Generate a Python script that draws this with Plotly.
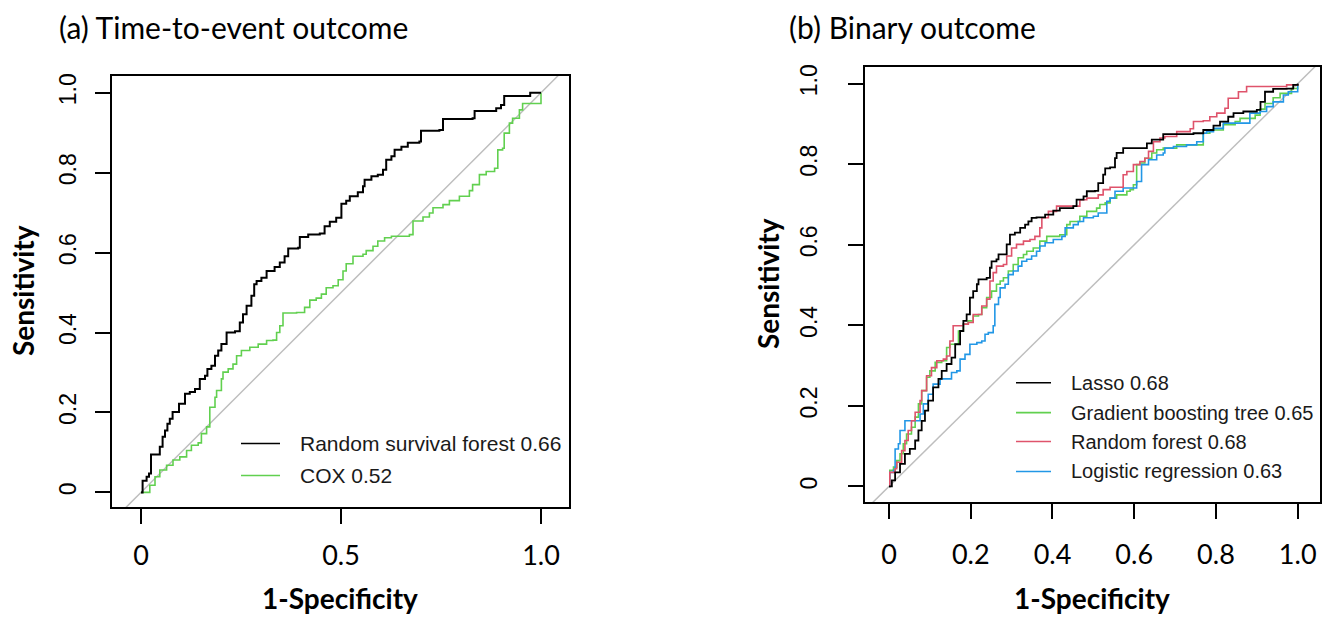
import plotly.graph_objects as go

# ---------------- data: panel (a) time-to-event ----------------
rsf_fpr = [0, 0.004, 0.014, 0.020, 0.025, 0.041, 0.047, 0.054, 0.060, 0.066, 0.072, 0.079, 0.089, 0.095, 0.101, 0.110, 0.122, 0.135, 0.147, 0.160, 0.166, 0.176, 0.185, 0.193, 0.201, 0.214, 0.235, 0.247, 0.255, 0.264, 0.276, 0.283, 0.289, 0.301, 0.314, 0.334, 0.347, 0.359, 0.368, 0.393, 0.397, 0.418, 0.447, 0.459, 0.472, 0.488, 0.501, 0.513, 0.522, 0.542, 0.555, 0.559, 0.576, 0.592, 0.605, 0.613, 0.626, 0.634, 0.651, 0.667, 0.696, 0.700, 0.746, 0.755, 0.829, 0.834, 0.884, 0.888, 0.900, 0.908, 0.971, 0.973, 1.0]
rsf_tpr = [0, 0.029, 0.039, 0.047, 0.095, 0.095, 0.114, 0.139, 0.155, 0.172, 0.184, 0.201, 0.201, 0.222, 0.222, 0.247, 0.251, 0.259, 0.284, 0.292, 0.309, 0.317, 0.342, 0.355, 0.371, 0.400, 0.403, 0.425, 0.446, 0.467, 0.492, 0.521, 0.529, 0.537, 0.554, 0.564, 0.575, 0.591, 0.610, 0.612, 0.639, 0.645, 0.648, 0.666, 0.677, 0.687, 0.722, 0.730, 0.741, 0.751, 0.766, 0.782, 0.791, 0.795, 0.807, 0.832, 0.841, 0.857, 0.865, 0.875, 0.878, 0.905, 0.907, 0.934, 0.936, 0.954, 0.954, 0.961, 0.969, 0.992, 0.992, 1.0, 1.0]

cox_fpr = [0, 0.018, 0.022, 0.035, 0.047, 0.064, 0.080, 0.097, 0.114, 0.126, 0.143, 0.151, 0.164, 0.172, 0.185, 0.189, 0.201, 0.205, 0.218, 0.230, 0.239, 0.251, 0.272, 0.293, 0.314, 0.330, 0.339, 0.347, 0.355, 0.389, 0.409, 0.422, 0.438, 0.451, 0.463, 0.480, 0.493, 0.505, 0.513, 0.530, 0.555, 0.563, 0.580, 0.592, 0.609, 0.626, 0.671, 0.680, 0.705, 0.721, 0.730, 0.755, 0.771, 0.796, 0.821, 0.829, 0.846, 0.863, 0.884, 0.892, 0.904, 0.908, 0.917, 0.921, 0.929, 0.946, 0.954, 0.967, 1.0]
cox_tpr = [0, 0, 0.018, 0.039, 0.056, 0.068, 0.081, 0.089, 0.105, 0.118, 0.124, 0.147, 0.164, 0.213, 0.238, 0.255, 0.284, 0.301, 0.309, 0.321, 0.342, 0.355, 0.363, 0.371, 0.380, 0.381, 0.400, 0.417, 0.449, 0.450, 0.463, 0.481, 0.486, 0.496, 0.512, 0.517, 0.532, 0.554, 0.572, 0.591, 0.596, 0.605, 0.616, 0.629, 0.637, 0.641, 0.645, 0.679, 0.689, 0.699, 0.712, 0.720, 0.730, 0.741, 0.755, 0.770, 0.795, 0.803, 0.811, 0.857, 0.861, 0.899, 0.899, 0.924, 0.936, 0.957, 0.973, 0.973, 1.0]

# ---------------- data: panel (b) binary ----------------
lasso_fpr = [0, 0.007, 0.015, 0.027, 0.039, 0.051, 0.064, 0.072, 0.080, 0.088, 0.096, 0.108, 0.121, 0.129, 0.141, 0.153, 0.162, 0.174, 0.182, 0.190, 0.198, 0.206, 0.215, 0.219, 0.239, 0.247, 0.251, 0.263, 0.268, 0.280, 0.288, 0.296, 0.308, 0.321, 0.333, 0.341, 0.349, 0.361, 0.382, 0.402, 0.418, 0.451, 0.459, 0.476, 0.484, 0.504, 0.512, 0.524, 0.529, 0.541, 0.553, 0.557, 0.573, 0.622, 0.631, 0.643, 0.671, 0.745, 0.769, 0.794, 0.810, 0.830, 0.843, 0.867, 0.900, 0.909, 0.920, 0.940, 0.973, 0.989, 1.0]
lasso_tpr = [0, 0.015, 0.035, 0.056, 0.081, 0.093, 0.114, 0.139, 0.163, 0.188, 0.213, 0.246, 0.267, 0.287, 0.304, 0.320, 0.353, 0.386, 0.411, 0.427, 0.469, 0.485, 0.502, 0.514, 0.518, 0.543, 0.559, 0.564, 0.576, 0.576, 0.601, 0.625, 0.630, 0.642, 0.650, 0.658, 0.667, 0.668, 0.675, 0.685, 0.691, 0.696, 0.712, 0.720, 0.733, 0.734, 0.753, 0.774, 0.790, 0.792, 0.815, 0.828, 0.840, 0.840, 0.852, 0.861, 0.875, 0.877, 0.885, 0.896, 0.906, 0.918, 0.927, 0.931, 0.935, 0.955, 0.980, 0.987, 0.988, 0.997, 1.0]

gbt_fpr = [0, 0.002, 0.011, 0.019, 0.027, 0.035, 0.043, 0.055, 0.064, 0.072, 0.080, 0.092, 0.100, 0.113, 0.129, 0.141, 0.149, 0.162, 0.170, 0.182, 0.194, 0.206, 0.219, 0.227, 0.239, 0.251, 0.263, 0.272, 0.280, 0.292, 0.304, 0.316, 0.329, 0.337, 0.353, 0.369, 0.386, 0.418, 0.435, 0.443, 0.467, 0.484, 0.508, 0.516, 0.529, 0.541, 0.557, 0.582, 0.590, 0.598, 0.606, 0.614, 0.626, 0.643, 0.655, 0.671, 0.704, 0.745, 0.769, 0.785, 0.818, 0.847, 0.859, 0.896, 0.908, 0.920, 0.940, 0.957, 0.985, 1.0]
gbt_tpr = [0, 0.040, 0.048, 0.064, 0.081, 0.106, 0.130, 0.147, 0.172, 0.205, 0.238, 0.271, 0.287, 0.308, 0.312, 0.345, 0.353, 0.353, 0.386, 0.403, 0.411, 0.423, 0.427, 0.444, 0.469, 0.485, 0.502, 0.510, 0.518, 0.535, 0.551, 0.568, 0.576, 0.584, 0.592, 0.609, 0.621, 0.625, 0.650, 0.658, 0.671, 0.683, 0.691, 0.700, 0.704, 0.716, 0.724, 0.733, 0.737, 0.749, 0.799, 0.803, 0.815, 0.828, 0.836, 0.840, 0.848, 0.848, 0.877, 0.885, 0.898, 0.906, 0.914, 0.922, 0.937, 0.951, 0.965, 0.976, 0.988, 1.0]

rf_fpr = [0, 0.002, 0.015, 0.019, 0.031, 0.039, 0.047, 0.055, 0.064, 0.076, 0.080, 0.092, 0.104, 0.117, 0.133, 0.141, 0.149, 0.157, 0.170, 0.182, 0.194, 0.206, 0.219, 0.227, 0.239, 0.247, 0.255, 0.263, 0.280, 0.288, 0.300, 0.312, 0.329, 0.345, 0.357, 0.369, 0.374, 0.390, 0.410, 0.451, 0.467, 0.484, 0.512, 0.524, 0.541, 0.565, 0.573, 0.582, 0.598, 0.614, 0.626, 0.635, 0.647, 0.663, 0.675, 0.704, 0.737, 0.745, 0.769, 0.785, 0.802, 0.822, 0.830, 0.843, 0.855, 0.875, 0.940, 0.973, 1.0]
rf_tpr = [0, 0.035, 0.044, 0.060, 0.089, 0.114, 0.139, 0.163, 0.184, 0.213, 0.238, 0.275, 0.295, 0.312, 0.316, 0.324, 0.361, 0.399, 0.399, 0.403, 0.407, 0.427, 0.427, 0.448, 0.465, 0.510, 0.531, 0.547, 0.551, 0.572, 0.592, 0.601, 0.609, 0.613, 0.621, 0.642, 0.667, 0.683, 0.696, 0.696, 0.712, 0.716, 0.724, 0.737, 0.743, 0.743, 0.774, 0.782, 0.799, 0.807, 0.815, 0.832, 0.856, 0.865, 0.869, 0.881, 0.888, 0.906, 0.908, 0.918, 0.927, 0.939, 0.964, 0.964, 0.980, 0.993, 0.993, 0.997, 1.0]

lr_fpr = [0, 0.002, 0.011, 0.015, 0.023, 0.027, 0.039, 0.072, 0.076, 0.084, 0.096, 0.108, 0.125, 0.141, 0.153, 0.166, 0.174, 0.186, 0.198, 0.215, 0.227, 0.235, 0.243, 0.255, 0.259, 0.268, 0.272, 0.284, 0.292, 0.304, 0.316, 0.325, 0.337, 0.349, 0.361, 0.369, 0.382, 0.402, 0.423, 0.431, 0.451, 0.463, 0.476, 0.500, 0.512, 0.524, 0.533, 0.541, 0.553, 0.573, 0.598, 0.606, 0.618, 0.635, 0.655, 0.671, 0.675, 0.696, 0.728, 0.753, 0.769, 0.777, 0.794, 0.818, 0.867, 0.883, 0.908, 0.924, 0.940, 0.965, 0.977, 1.0]
lr_tpr = [0, 0.035, 0.040, 0.093, 0.106, 0.139, 0.163, 0.163, 0.180, 0.205, 0.229, 0.254, 0.267, 0.267, 0.283, 0.287, 0.316, 0.328, 0.353, 0.357, 0.361, 0.378, 0.382, 0.399, 0.452, 0.469, 0.493, 0.502, 0.526, 0.535, 0.547, 0.559, 0.564, 0.572, 0.584, 0.597, 0.605, 0.613, 0.621, 0.642, 0.650, 0.658, 0.667, 0.671, 0.679, 0.679, 0.708, 0.716, 0.733, 0.741, 0.741, 0.757, 0.799, 0.811, 0.823, 0.828, 0.840, 0.844, 0.848, 0.856, 0.877, 0.881, 0.889, 0.902, 0.902, 0.927, 0.931, 0.943, 0.955, 0.972, 0.980, 1.0]

ref_line = [-0.2, 1.2]

left_names = ["Random survival forest 0.66", "COX 0.52"]
right_names = ["Lasso 0.68", "Gradient boosting tree 0.65", "Random forest 0.68", "Logistic regression 0.63"]
left_xticks = [0, 0.5, 1.0]
left_xlabels = ["0", "0.5", "1.0"]
right_xticks = [0, 0.2, 0.4, 0.6, 0.8, 1.0]
right_xlabels = ["0", "0.2", "0.4", "0.6", "0.8", "1.0"]
yticks = [0, 0.2, 0.4, 0.6, 0.8, 1.0]
ylabels = ["0", "0.2", "0.4", "0.6", "0.8", "1.0"]

BLACK = "#000000"
GREEN = "#61D04F"
RED = "#DF536B"
BLUE = "#2297E6"
GREY = "#BEBEBE"

left_colors = [BLACK, GREEN]
right_colors = [BLACK, GREEN, RED, BLUE]

fig = go.Figure()

# reference diagonals
for xa, ya in (("x", "y"), ("x2", "y2")):
    fig.add_trace(go.Scatter(x=ref_line, y=ref_line, mode="lines", line=dict(color=GREY, width=1.5),
                             showlegend=False, hoverinfo="skip", xaxis=xa, yaxis=ya))

# panel (a)
fig.add_trace(go.Scatter(x=cox_fpr, y=cox_tpr, mode="lines", name=left_names[1], showlegend=False,
                         line=dict(color=GREEN, width=1.6, shape="hv"), xaxis="x", yaxis="y"))
fig.add_trace(go.Scatter(x=rsf_fpr, y=rsf_tpr, mode="lines", name=left_names[0], showlegend=False,
                         line=dict(color=BLACK, width=2, shape="hv"), xaxis="x", yaxis="y"))

# panel (b)
fig.add_trace(go.Scatter(x=gbt_fpr, y=gbt_tpr, mode="lines", name=right_names[1], showlegend=False,
                         line=dict(color=GREEN, width=1.6, shape="hv"), xaxis="x2", yaxis="y2"))
fig.add_trace(go.Scatter(x=lr_fpr, y=lr_tpr, mode="lines", name=right_names[3], showlegend=False,
                         line=dict(color=BLUE, width=1.6, shape="hv"), xaxis="x2", yaxis="y2"))
fig.add_trace(go.Scatter(x=rf_fpr, y=rf_tpr, mode="lines", name=right_names[2], showlegend=False,
                         line=dict(color=RED, width=1.6, shape="hv"), xaxis="x2", yaxis="y2"))
fig.add_trace(go.Scatter(x=lasso_fpr, y=lasso_tpr, mode="lines", name=right_names[0], showlegend=False,
                         line=dict(color=BLACK, width=1.8, shape="hv"), xaxis="x2", yaxis="y2"))

W, H = 1322, 617
TICKFONT_X = dict(family="Lato", size=27, color="black")
TICKFONT_Y = dict(family="Liberation Sans, Arial", size=23, color="black")

common_axis = dict(showline=True, mirror=True, linecolor="black", linewidth=1.5,
                   ticks="outside", ticklen=15, tickwidth=1.5, tickcolor="black",
                   showgrid=False, zeroline=False)

fig.update_layout(
    width=W, height=H,
    margin=dict(l=0, r=0, t=0, b=0),
    paper_bgcolor="white", plot_bgcolor="white",
    showlegend=False,
    xaxis=dict(domain=[112 / W, 569 / W], range=[-0.0725, 1.070], anchor="y",
               tickvals=left_xticks, ticktext=left_xlabels, tickfont=TICKFONT_X,
               ticklabelstandoff=8, **common_axis),
    yaxis=dict(domain=[1 - 507 / H, 1 - 74 / H], range=[-0.0374, 1.0424], anchor="x",
               tickvals=yticks, ticktext=ylabels, tickfont=TICKFONT_Y, tickangle=-90,
               ticklabelstandoff=10, **common_axis),
    xaxis2=dict(domain=[865 / W, 1320 / W], range=[-0.0587, 1.0546], anchor="y2",
                tickvals=right_xticks, ticktext=right_xlabels, tickfont=TICKFONT_X,
                ticklabelstandoff=12, **common_axis),
    yaxis2=dict(domain=[1 - 502 / H, 1 - 65 / H], range=[-0.0396, 1.042], anchor="x2",
                tickvals=yticks, ticktext=ylabels, tickfont=TICKFONT_Y, tickangle=-90,
                ticklabelstandoff=22, **common_axis),
)

TITLE_FONT = dict(family="Lato", size=30, color="black")
AXT_FONT = dict(family="Lato", size=28, color="black", weight="bold")
annotations = [
    dict(text="(a) Time-to-event outcome", x=57 / W, y=1 - 25 / H, xanchor="left", yanchor="middle", font=TITLE_FONT),
    dict(text="(b) Binary outcome", x=787 / W, y=1 - 25 / H, xanchor="left", yanchor="middle", font=TITLE_FONT),
    dict(text="<b>Sensitivity</b>", x=23 / W, y=1 - 290 / H, textangle=-90, xanchor="center", yanchor="middle", font=AXT_FONT),
    dict(text="<b>Sensitivity</b>", x=768 / W, y=1 - 283 / H, textangle=-90, xanchor="center", yanchor="middle", font=AXT_FONT),
    dict(text="<b>1-Specificity</b>", x=340 / W, y=1 - 598 / H, xanchor="center", yanchor="middle", font=AXT_FONT),
    dict(text="<b>1-Specificity</b>", x=1092 / W, y=1 - 598 / H, xanchor="center", yanchor="middle", font=AXT_FONT),
]

# manual legends (R-style, no box)
shapes = []
LEG_FONT_L = dict(family="Liberation Sans, Arial", size=21, color="#1a1a1a")
LEG_FONT_R = dict(family="Liberation Sans, Arial", size=20, color="#1a1a1a")
left_rows = [443, 475]
for name, col, row in zip(left_names, left_colors, left_rows):
    shapes.append(dict(type="line", xref="paper", yref="paper", x0=241 / W, x1=280 / W,
                       y0=1 - row / H, y1=1 - row / H, line=dict(color=col, width=1.6)))
    annotations.append(dict(text=name, x=298 / W, y=1 - row / H, xanchor="left", yanchor="middle", font=LEG_FONT_L))
right_rows = [382, 412, 441, 471]
for name, col, row in zip(right_names, right_colors, right_rows):
    shapes.append(dict(type="line", xref="paper", yref="paper", x0=1016 / W, x1=1051 / W,
                       y0=1 - row / H, y1=1 - row / H, line=dict(color=col, width=1.6)))
    annotations.append(dict(text=name, x=1069 / W, y=1 - row / H, xanchor="left", yanchor="middle", font=LEG_FONT_R))

for a in annotations:
    a.update(xref="paper", yref="paper", showarrow=False)
fig.update_layout(annotations=annotations, shapes=shapes)

fig.write_html("out.html", config={"displayModeBar": False},
               post_script="document.body.style.margin='0px';document.body.style.padding='0px';")
